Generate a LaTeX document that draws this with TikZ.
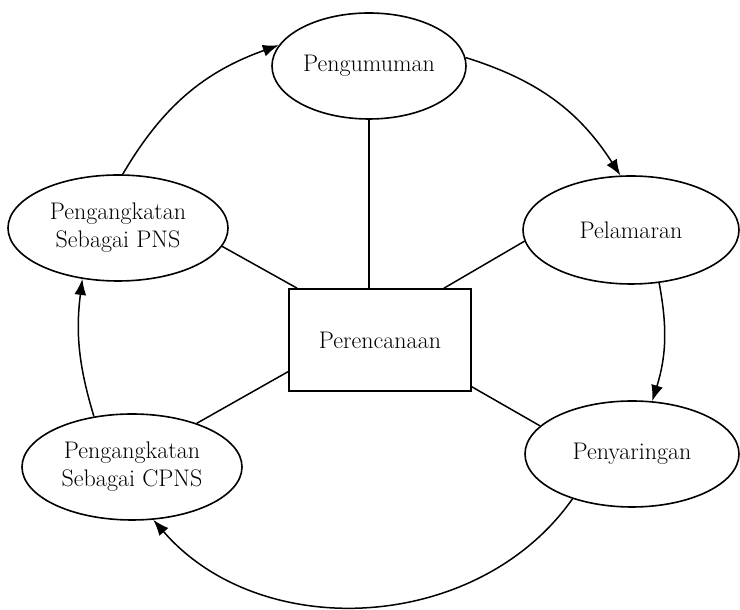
\documentclass[tikz,border=0pt]{standalone}
\usepackage{fontspec}
\usetikzlibrary{positioning, arrows.meta, shapes.geometric}

\begin{document}
\begin{tikzpicture}[x=1pt, y=1pt]
        % Definitions
        \def\ellW{218}
        \def\ellH{106}

        % Styles
        \tikzstyle{stage} = [draw, ellipse, line width=1.6pt, inner sep=0pt, minimum width=\ellW, minimum height=\ellH, align=center, font=\fontsize{24}{28}\selectfont]
        \tikzstyle{plan} = [draw, rectangle, line width=1.6pt, minimum width=182, minimum height=102, font=\fontsize{24}{28}\selectfont]
        \tikzstyle{line} = [draw, line width=1.5pt, black]
        \tikzstyle{flow} = [draw, ->, >={Latex[length=16pt, width=12pt]}, line width=1.5pt, black]

        \useasboundingbox (0,0) rectangle (740,610);

        % Nodes
        \node[plan] (rencana) at (380,270) {Perencanaan};
        \node[stage, minimum width=194] (umum) at (369,544) {Pengumuman};
        \node[stage, minimum width=216, minimum height=108] (lamar) at (631,380) {Pelamaran};
        \node[stage, minimum width=214] (saring) at (632,156) {Penyaringan};
        \node[stage, minimum width=220] (cpns) at (132,143) {Pengangkatan\\Sebagai CPNS};
        \node[stage, minimum width=220] (pns) at (118,382) {Pengangkatan\\Sebagai PNS};

        % Spokes
        \draw[line] (umum.south) -- (umum.south |- rencana.north);
        \draw[line] (rencana.148) -- (pns.-10);
        \draw[line] (rencana.39) -- (lamar.186);
        \draw[line] (rencana.199) -- (cpns.34);
        \draw[line] (rencana.-27) -- (saring.163);

        % Cycle
        \draw[flow] (pns.85) to[bend left=20] (umum.167);
        \draw[flow] (umum.5) to[bend left=20] (lamar.101);
        \draw[flow] (lamar.-62) to[bend left=14] (saring.69);
        \draw[flow] (saring.217) to[bend left=52] (cpns.-68);
        \draw[flow] (cpns.127) to[bend left=12] (pns.235);

    \end{tikzpicture}
\end{document}
